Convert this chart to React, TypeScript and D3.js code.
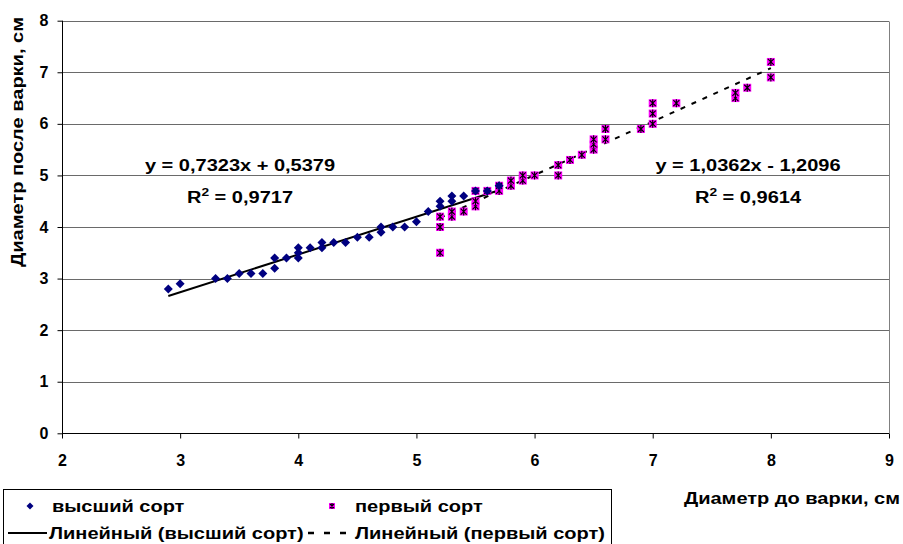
import { useEffect, useRef } from "react"
import * as d3 from "d3"

// высший сорт: [до варки, после варки]
const TOP_X = [2.9, 3.0, 3.3, 3.4, 3.5, 3.6, 3.7, 3.8, 3.8, 3.9, 4.0, 4.0, 4.0, 4.1, 4.2, 4.2, 4.3, 4.4, 4.5, 4.6, 4.7, 4.7, 4.8, 4.9, 5.0, 5.1, 5.2, 5.2, 5.3, 5.3, 5.4, 5.5, 5.6, 5.7]
const TOP_Y = [2.8, 2.9, 3.0, 3.0, 3.1, 3.1, 3.1, 3.2, 3.4, 3.4, 3.4, 3.5, 3.6, 3.6, 3.6, 3.7, 3.7, 3.7, 3.8, 3.8, 3.9, 4.0, 4.0, 4.0, 4.1, 4.3, 4.4, 4.5, 4.5, 4.6, 4.6, 4.7, 4.7, 4.8]

// первый сорт
const FIRST_X = [5.2, 5.2, 5.2, 5.3, 5.3, 5.4, 5.5, 5.5, 5.5, 5.6, 5.7, 5.7, 5.8, 5.8, 5.9, 5.9, 6.0, 6.2, 6.2, 6.3, 6.4, 6.5, 6.5, 6.5, 6.6, 6.6, 6.9, 7.0, 7.0, 7.0, 7.2, 7.7, 7.7, 7.8, 8.0, 8.0]
const FIRST_Y = [3.5, 4.0, 4.2, 4.2, 4.3, 4.3, 4.4, 4.5, 4.7, 4.7, 4.7, 4.8, 4.8, 4.9, 4.9, 5.0, 5.0, 5.0, 5.2, 5.3, 5.4, 5.5, 5.6, 5.7, 5.7, 5.9, 5.9, 6.0, 6.2, 6.4, 6.4, 6.5, 6.6, 6.7, 6.9, 7.2]

// trend coefficients as shown on the chart
const TOP_TREND = { a: 0.7323, b: 0.5379, r2: "0,9717", eq: "y = 0,7323x + 0,5379" }
const FIRST_TREND = { a: 1.0362, b: -1.2096, r2: "0,9614", eq: "y = 1,0362x - 1,2096" }

const X_TICKS = [2, 3, 4, 5, 6, 7, 8, 9]
const Y_TICKS = [0, 1, 2, 3, 4, 5, 6, 7, 8]

const FONT = "'Liberation Sans', Arial, sans-serif"
const STRETCH = 1.25 // the original text is wider than Liberation Sans

export default function App() {
  const svgRef = useRef<SVGSVGElement>(null)

  useEffect(() => {
    const W = 903, H = 544
    const left = 62, right = 889, top = 20.7, bottom = 433.3
    const svg = d3.select(svgRef.current)
    svg.selectAll("*").remove()
    svg.attr("width", W).attr("height", H).style("font-family", FONT).style("font-weight", "bold")

    const x = d3.scaleLinear().domain([2, 9]).range([left, right])
    const y = d3.scaleLinear().domain([0, 8]).range([bottom, top])

    // helper: stretched text at a point
    const label = (g: any, tx: number, ty: number, txt: string, anchor = "start", rot = 0) =>
      g.append("text")
        .attr("transform", `translate(${tx},${ty}) rotate(${rot}) scale(${STRETCH},1)`)
        .attr("text-anchor", anchor).style("font-size", "16px").text(txt)

    // grid lines
    svg.append("g")
      .selectAll("line")
      .data(Y_TICKS.filter(d => d > 0))
      .join("line")
      .attr("x1", left).attr("x2", right)
      .attr("y1", d => Math.round(y(d)) + 0.5).attr("y2", d => Math.round(y(d)) + 0.5)
      .attr("stroke", "#6a6a6a").attr("stroke-width", 1)
    // right border
    svg.append("line")
      .attr("x1", Math.round(right) + 0.5).attr("x2", Math.round(right) + 0.5)
      .attr("y1", Math.round(top) + 0.5).attr("y2", Math.round(bottom) + 0.5)
      .attr("stroke", "#808080")

    // axes
    const xAxis = svg.append("g")
      .attr("transform", `translate(0,${Math.round(bottom) + 0.5})`)
      .call(d3.axisBottom(x).tickValues(X_TICKS).tickSize(5).tickPadding(16).tickFormat(d3.format("d")))
    const yAxis = svg.append("g")
      .attr("transform", `translate(${Math.round(left) + 0.5},0)`)
      .call(d3.axisLeft(y).tickValues(Y_TICKS).tickSize(5).tickPadding(9).tickFormat(d3.format("d")))
    ;[xAxis, yAxis].forEach(g => {
      g.select(".domain").attr("d", null)
      g.selectAll(".tick line").attr("stroke", "#000")
      g.selectAll(".tick text").attr("fill", "#000").style("font-size", "16px").style("font-family", FONT).style("font-weight", "bold")
    })
    xAxis.append("line").attr("x1", left).attr("x2", right).attr("stroke", "#000")
    yAxis.append("line").attr("y1", top).attr("y2", bottom).attr("stroke", "#000")

    // trend lines
    const trendLine = d3.line<number>().x(d => x(d)).y(d => y(TOP_TREND.a * d + TOP_TREND.b))
    svg.append("path")
      .datum(d3.extent(TOP_X) as [number, number])
      .attr("d", trendLine)
      .attr("stroke", "#000").attr("stroke-width", 2).attr("fill", "none")
    const trendLine2 = d3.line<number>().x(d => x(d)).y(d => y(FIRST_TREND.a * d + FIRST_TREND.b))
    svg.append("path")
      .datum(d3.extent(FIRST_X) as [number, number])
      .attr("d", trendLine2)
      .attr("stroke", "#000").attr("stroke-width", 2).attr("stroke-dasharray", "5,7").attr("fill", "none")

    // first grade markers
    const sq = svg.append("g")
      .selectAll("g")
      .data(FIRST_X.map((v, i) => [v, FIRST_Y[i]]))
      .join("g")
      .attr("transform", d => `translate(${x(d[0])},${y(d[1])})`)
    drawStar(sq)

    // top grade markers
    svg.append("g")
      .selectAll("path")
      .data(TOP_X.map((v, i) => [v, TOP_Y[i]]))
      .join("path")
      .attr("transform", d => `translate(${x(d[0])},${y(d[1])})`)
      .attr("d", "M0,-4.5L4.5,0L0,4.5L-4.5,0Z")
      .attr("fill", "#000080")

    // equations
    const ann = (tx: number, ty: number, eq: string, r2: string) => {
      label(svg, tx, ty, eq, "middle")
      const t = svg.append("text")
        .attr("transform", `translate(${tx},${ty + 32}) scale(${STRETCH},1)`)
        .attr("text-anchor", "middle").style("font-size", "16px")
      t.append("tspan").text("R")
      t.append("tspan").attr("dy", -7).style("font-size", "11px").text("2")
      t.append("tspan").attr("dy", 7).text(" = " + r2)
    }
    ann(240, 171, TOP_TREND.eq, TOP_TREND.r2)
    ann(748, 171, FIRST_TREND.eq, FIRST_TREND.r2)

    // axis titles
    label(svg, 23, 142, "Диаметр после варки, см", "middle", -90)
    label(svg, 900, 504, "Диаметр до варки, см", "end")

    // legend
    const lg = svg.append("g")
    lg.append("rect").attr("x", 3.5).attr("y", 489.5).attr("width", 608).attr("height", 70)
      .attr("fill", "#fff").attr("stroke", "#000")
    lg.append("path").attr("transform", "translate(30,506)").attr("d", "M0,-3.5L3.5,0L0,3.5L-3.5,0Z").attr("fill", "#000080")
    label(lg, 52, 512, "высший сорт")
    const lgStar = lg.append("g").attr("transform", "translate(332,506)")
    drawStar(lgStar, 0.75)
    label(lg, 355, 512, "первый сорт")
    lg.append("line").attr("x1", 8).attr("x2", 47).attr("y1", 533).attr("y2", 533).attr("stroke", "#000").attr("stroke-width", 2)
    label(lg, 49, 539, "Линейный (высший сорт)")
    lg.append("line").attr("x1", 308).attr("x2", 348).attr("y1", 533).attr("y2", 533)
      .attr("stroke", "#000").attr("stroke-width", 2.5).attr("stroke-dasharray", "6,10")
    label(lg, 355, 539, "Линейный (первый сорт)")
  }, [])

  function drawStar(sel: any, k = 1) {
    const s = 4 * k
    sel.append("rect").attr("x", -s).attr("y", -s).attr("width", 2 * s).attr("height", 2 * s).attr("fill", "#ff00ff")
    sel.append("path")
      .attr("d", `M${-s + 1},${-s + 1}L${s - 1},${s - 1}M${s - 1},${-s + 1}L${-s + 1},${s - 1}M0,${-s}L0,${s}`)
      .attr("stroke", "#000").attr("stroke-width", 1.1).attr("fill", "none")
  }

  return (
    <div style={{ position: "fixed", left: 0, top: 0, width: 903, height: 544, overflow: "hidden", background: "#fff" }}>
      <svg ref={svgRef} style={{ display: "block" }} />
    </div>
  )
}
